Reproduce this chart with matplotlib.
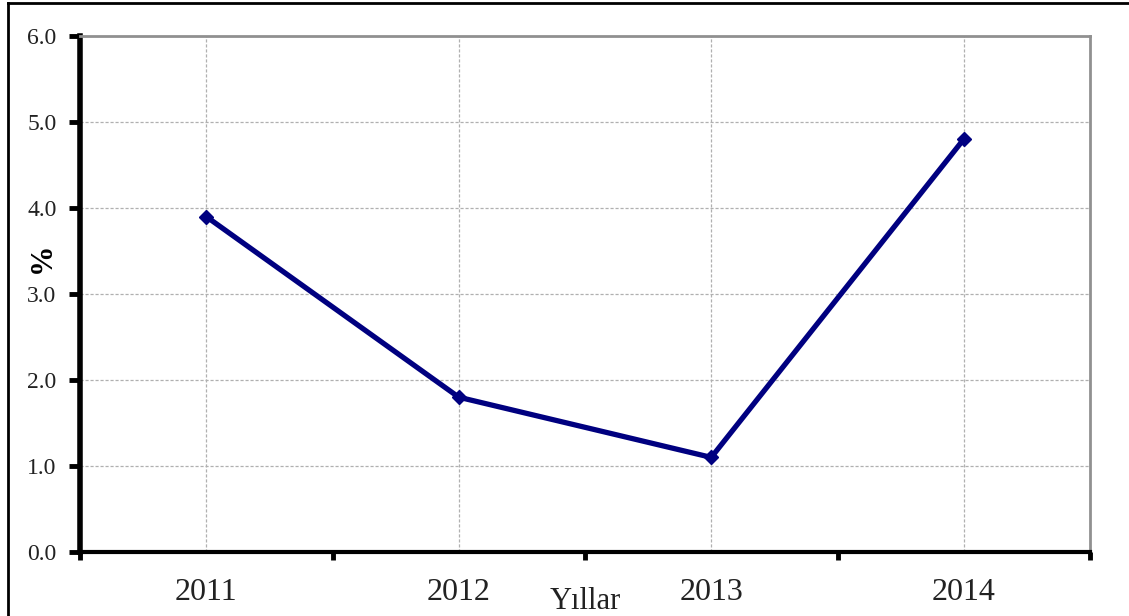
import matplotlib
matplotlib.use("Agg")
import matplotlib.pyplot as plt
from matplotlib.lines import Line2D
import numpy as np

years = ["2011", "2012", "2013", "2014"]
values = [3.9, 1.8, 1.1, 4.8]
yticks = [0.0, 1.0, 2.0, 3.0, 4.0, 5.0, 6.0]

plt.rcParams['font.family'] = ['Liberation Serif', 'DejaVu Serif']

W, H = 1129, 616
fig = plt.figure(figsize=(W / 100, H / 100), dpi=100)
ax = fig.add_axes([80 / W, 1 - 552 / H, (1090 - 80) / W, (552 - 36) / H])

x = np.arange(len(years)) + 0.5
ax.plot(x, values, color="#000080", lw=3.8, marker="D", ms=7, mfc="#000080", mec="#000080", zorder=5)

ax.set_xlim(0, len(years))
ax.set_ylim(0, 6)

ax.set_yticks(yticks)
ax.set_yticklabels([f"{v:.1f}" for v in yticks], fontsize=17, color="#222222")
ax.set_xticks(np.arange(len(years) + 1))
ax.set_xticklabels([])
ax.set_xticks(x, minor=True)
ax.set_xticklabels(years, minor=True, fontsize=23, color="#222222")

ax.tick_params(axis="y", direction="out", length=8, width=3.5, pad=9, color="black")
ax.tick_params(axis="x", which="major", direction="out", length=6, width=3.5, color="black")
ax.tick_params(axis="x", which="minor", length=0, pad=19)

ax.grid(axis="y", which="major", linestyle=(0, (2.5, 1.5)), color="#b0b0b0", lw=0.9)
ax.grid(axis="x", which="minor", linestyle=(0, (2.5, 1.5)), color="#b0b0b0", lw=0.9)
ax.grid(axis="x", which="major", visible=False)
ax.set_axisbelow(True)

ax.spines["left"].set_linewidth(4)
ax.spines["left"].set_color("black")
ax.spines["bottom"].set_linewidth(3)
ax.spines["bottom"].set_color("black")
ax.spines["top"].set_linewidth(2)
ax.spines["top"].set_color("#909090")
ax.spines["right"].set_linewidth(2)
ax.spines["right"].set_color("#909090")

ax.set_xlabel("Yıllar", fontsize=22, color="#222222")
ax.xaxis.set_label_coords(0.5, -0.095)
ax.xaxis.label.set_va("center")
ax.set_ylabel("%", fontsize=22, fontweight="bold", color="black")
ax.yaxis.set_label_coords(-0.0376, 0.57)
ax.yaxis.label.set_va("center")

# figure frame
fig.add_artist(Line2D([8 / W, 8 / W], [0, 1 - 3 / H], transform=fig.transFigure, color="black", lw=2))
fig.add_artist(Line2D([8 / W, 1], [1 - 3 / H, 1 - 3 / H], transform=fig.transFigure, color="black", lw=2))

fig.savefig("out.png", dpi=100)
